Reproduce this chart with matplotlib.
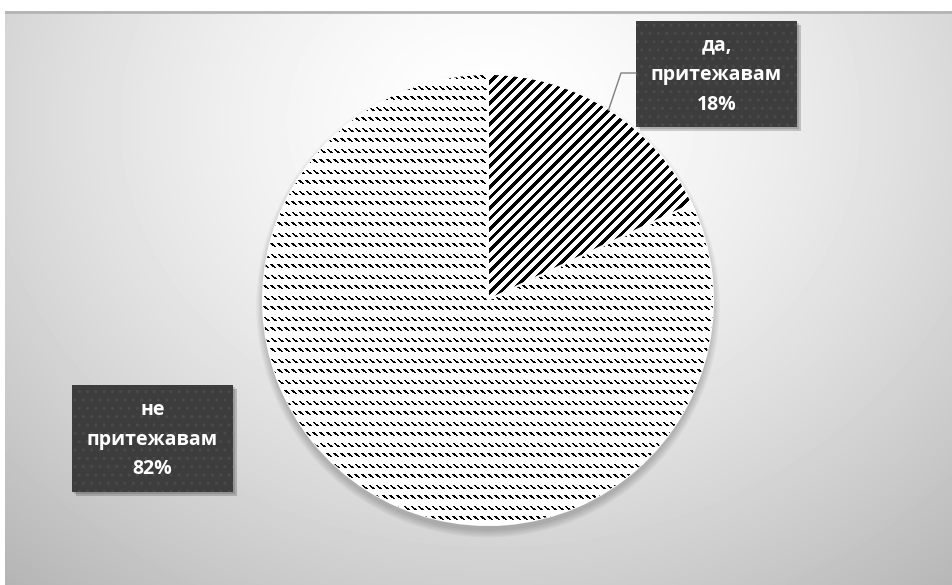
import matplotlib.pyplot as plt
import numpy as np
from matplotlib.patches import Rectangle, Circle

# data
labels = ['да,\nпритежавам', 'не\nпритежавам']
shares = [18, 82]

W, H = 952, 585
fig = plt.figure(figsize=(W / 100, H / 100), dpi=100)
fig.patch.set_facecolor('white')

# chart area with a soft radial gradient
top = 11
bg = fig.add_axes([5 / W, 0, (W - 5) / W, (H - top) / H])
yy, xx = np.mgrid[0:H - top, 0:W - 5]
r = np.sqrt(((xx - 485) / 640) ** 2 + ((yy - 110) / 540) ** 2)
shade = 1 - 0.24 * np.clip(r, 0, 1.3) ** 1.5
bg.imshow(shade, cmap='gray', vmin=0, vmax=1, aspect='auto', interpolation='bilinear')
bg.axhline(0, color='#b4b4b4', lw=2)
bg.axis('off')

# pie
R = 225
cx, cy = 488, 300
ax = fig.add_axes([(cx - R) / W, (H - cy - R) / H, 2 * R / W, 2 * R / H])
wedges, _ = ax.pie(shares, startangle=90, counterclock=False, colors=['white', 'white'],
                   wedgeprops=dict(edgecolor='white', linewidth=1.5))

# soft shadow under the pie
for k in range(6):
    ax.add_patch(Circle((0, -0.025), 1.0 + 0.006 * k, color='black', alpha=0.035,
                        zorder=0, clip_on=False, lw=0))

# textures (pixel patterns) for both slices
py, px = np.mgrid[0:2 * R, 0:2 * R]
stripes = np.where(((px + py) % 10.5) < 4.5, 0.0, 1.0)
u = px % 7
v = py % 10.5
d = u - 1.2 * v
dash = (v < 4) & (d >= -0.4) & (d < 2.2)
dashes = np.where(dash, 0.0, 1.0)

for w, tex in zip(wedges, [stripes, dashes]):
    w.set_zorder(1)
    im = ax.imshow(tex, cmap='gray', vmin=0, vmax=1, extent=(-1, 1, -1, 1),
                   interpolation='nearest', zorder=2)
    im.set_clip_path(w)
ax.set_xlim(-1, 1)
ax.set_ylim(-1, 1)
ax.set_aspect('equal')
ax.axis('off')

# separator lines between slices (white)
for w in wedges:
    t = np.deg2rad(w.theta1)
    ax.plot([0, np.cos(t)], [0, np.sin(t)], color='white', lw=1.5, zorder=3)

# labels
ov = fig.add_axes([0, 0, 1, 1], zorder=5)
ov.set_xlim(0, W)
ov.set_ylim(H, 0)
ov.axis('off')

boxes = [(636, 21, 161, 106), (72, 385, 161, 107)]
for (bx, by, bw, bh), lab, val in zip(boxes, labels, shares):
    ov.add_patch(Rectangle((bx + 4, by + 4), bw, bh, color='black', alpha=0.18, lw=0))
    ov.add_patch(Rectangle((bx + 2, by + 2), bw, bh, color='black', alpha=0.15, lw=0))
    ov.add_patch(Rectangle((bx, by), bw, bh, facecolor='#3d3d3d', edgecolor='#4a4a4a',
                           hatch='..', lw=0))
    ov.text(bx + bw / 2, by + bh / 2 + 1, f'{lab}\n{val}%', color='white', ha='center',
            va='center', fontsize=14, fontweight='bold', family='Open Sans', linespacing=1.65)

# leader line to the small slice
w0 = wedges[0]
mid = np.deg2rad((w0.theta1 + w0.theta2) / 2)
ex, ey = cx + R * np.cos(mid), cy - R * np.sin(mid)
ov.plot([636, 621, ex], [73, 73, ey], color='#808080', lw=1)

fig.savefig('out.png', dpi=100)
